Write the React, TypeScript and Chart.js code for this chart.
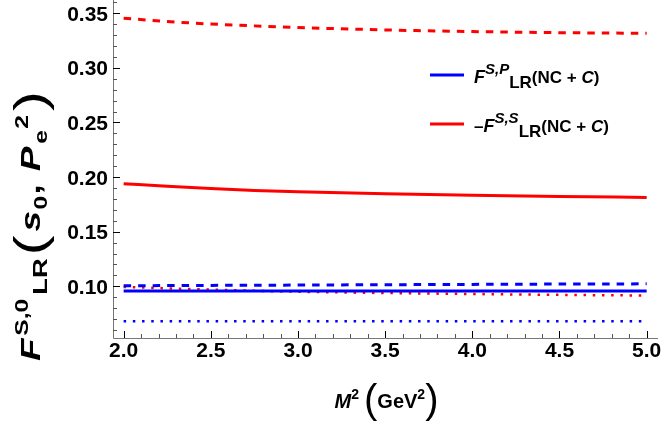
import React, { useEffect, useRef } from 'react';
import { Chart, registerables } from 'chart.js';
Chart.register(...registerables);

const xValues = [2.0, 2.25, 2.5, 2.75, 3.0, 3.5, 4.0, 4.5, 5.0];
const redDashed = [0.3455, 0.3425, 0.3402, 0.3385, 0.337, 0.3348, 0.3333, 0.3323, 0.3317];
const redSolid = [0.194, 0.1915, 0.1895, 0.1878, 0.1865, 0.1847, 0.1833, 0.1822, 0.1814];
const blueDashed = [0.1005, 0.1006, 0.1008, 0.1009, 0.1011, 0.1014, 0.1017, 0.102, 0.1022];
const blueSolid = [0.0957, 0.0957, 0.0957, 0.0957, 0.0957, 0.0957, 0.0957, 0.0957, 0.0957];
const redDotted = [0.0994, 0.0981, 0.097, 0.0959, 0.095, 0.0938, 0.0929, 0.0921, 0.0915];
const blueDotted = [0.068, 0.068, 0.068, 0.068, 0.068, 0.068, 0.068, 0.068, 0.068];

const xMajorTicks = [2.0, 2.5, 3.0, 3.5, 4.0, 4.5, 5.0];
const xTickLabels = ['2.0', '2.5', '3.0', '3.5', '4.0', '4.5', '5.0'];
const yMajorTicks = [0.1, 0.15, 0.2, 0.25, 0.3, 0.35];
const yTickLabels = ['0.10', '0.15', '0.20', '0.25', '0.30', '0.35'];

const RED = '#ff0000';
const BLUE = '#0000ff';
const FAM = '"Liberation Sans", Arial, sans-serif';

type Seg = { t: string; f: string; dy: number; gap?: number };

function segWidth(ctx: CanvasRenderingContext2D, segs: Seg[]) {
  let w = 0;
  for (const s of segs) {
    ctx.font = s.f;
    w += ctx.measureText(s.t).width + (s.gap || 0);
  }
  return w;
}
function drawSegs(ctx: CanvasRenderingContext2D, x: number, y: number, segs: Seg[]) {
  let cx = x;
  for (const s of segs) {
    ctx.font = s.f;
    ctx.fillText(s.t, cx, y + s.dy);
    cx += ctx.measureText(s.t).width + (s.gap || 0);
  }
}

const legendMain = (sup: string, neg: boolean): Seg[] => [
  ...(neg ? [{ t: '\u2013', f: `bold 17px ${FAM}`, dy: 0 }] : []),
  { t: 'F', f: `italic bold 18px ${FAM}`, dy: 0 },
  { t: sup, f: `italic bold 15px ${FAM}`, dy: -9 },
  { t: 'LR', f: `bold 17px ${FAM}`, dy: 5 },
  { t: '(NC + ', f: `bold 17px ${FAM}`, dy: 0 },
  { t: 'C', f: `italic bold 17px ${FAM}`, dy: 0 },
  { t: ')', f: `bold 17px ${FAM}`, dy: 0 },
];

const overlayPlugin = {
  id: 'overlay',
  afterDraw(chart: any) {
    const ctx: CanvasRenderingContext2D = chart.ctx;
    const xs = chart.scales.x;
    const ys = chart.scales.y;
    const { left, right, top, bottom } = chart.chartArea;
    ctx.save();
    ctx.strokeStyle = '#777';
    ctx.lineWidth = 1;
    ctx.beginPath();
    ctx.moveTo(left + 0.5, top);
    ctx.lineTo(left + 0.5, bottom + 0.5);
    ctx.lineTo(right, bottom + 0.5);
    ctx.stroke();
    for (let i = 0; i <= 31; i++) {
      const v = 1.9 + i * 0.1;
      const px = Math.round(xs.getPixelForValue(v)) + 0.5;
      if (px < left || px > right) continue;
      const major = Math.abs(Math.round(v * 2) - v * 2) < 1e-6;
      ctx.strokeStyle = major ? '#000' : '#555';
      ctx.beginPath();
      ctx.moveTo(px, bottom);
      ctx.lineTo(px, bottom - (major ? 7 : 4));
      ctx.stroke();
    }
    for (let i = 5; i <= 36; i++) {
      const v = i * 0.01;
      const py = Math.round(ys.getPixelForValue(v)) + 0.5;
      if (py < top || py > bottom) continue;
      const major = i % 5 === 0;
      ctx.strokeStyle = major ? '#000' : '#555';
      ctx.beginPath();
      ctx.moveTo(left, py);
      ctx.lineTo(left + (major ? 7 : 4), py);
      ctx.stroke();
    }
    ctx.fillStyle = '#000';
    ctx.font = `bold 21px ${FAM}`;
    ctx.textAlign = 'center';
    ctx.textBaseline = 'alphabetic';
    xMajorTicks.forEach((v, i) => {
      ctx.fillText(xTickLabels[i], xs.getPixelForValue(v), bottom + 19);
    });
    ctx.textAlign = 'right';
    yMajorTicks.forEach((v, i) => {
      ctx.fillText(yTickLabels[i], left - 5, ys.getPixelForValue(v) + 7.5);
    });
    ctx.textAlign = 'left';
    const xt: Seg[] = [
      { t: 'M', f: `italic bold 20px ${FAM}`, dy: 0 },
      { t: '2', f: `bold 14px ${FAM}`, dy: -9 },
      { t: ' ', f: `bold 18px ${FAM}`, dy: 0 },
      { t: '(', f: `40px ${FAM}`, dy: 5 },
      { t: 'GeV', f: `bold 20px ${FAM}`, dy: 0 },
      { t: '2', f: `bold 14px ${FAM}`, dy: -9 },
      { t: ')', f: `40px ${FAM}`, dy: 5 },
    ];
    const xw = segWidth(ctx, xt);
    drawSegs(ctx, (left + right) / 2 - xw / 2 + 1, 408, xt);
    const yt: Seg[] = [
      { t: 'F', f: `italic bold 27px ${FAM}`, dy: 0, gap: 2 },
      { t: 'S,0', f: `bold 18px ${FAM}`, dy: -12, gap: 3 },
      { t: 'LR', f: `bold 20px ${FAM}`, dy: 7, gap: 2 },
      { t: '(', f: `44px ${FAM}`, dy: 5, gap: 3 },
      { t: 's', f: `italic bold 27px ${FAM}`, dy: 0, gap: 1 },
      { t: '0', f: `bold 18px ${FAM}`, dy: 7, gap: 1 },
      { t: ', ', f: `bold 27px ${FAM}`, dy: 0, gap: 2 },
      { t: 'P', f: `italic bold 27px ${FAM}`, dy: 0, gap: 2 },
      { t: 'e', f: `bold 18px ${FAM}`, dy: 7, gap: 1 },
      { t: '2', f: `bold 18px ${FAM}`, dy: -12, gap: 3 },
      { t: ')', f: `44px ${FAM}`, dy: 5 },
    ];
    const yw = segWidth(ctx, yt);
    const k = 270 / yw;
    ctx.save();
    ctx.translate(40, 226);
    ctx.rotate(-Math.PI / 2);
    ctx.scale(k, 1);
    drawSegs(ctx, -yw / 2, 0, yt);
    ctx.restore();
    const items = [
      { c: BLUE, segs: legendMain('S,P', false), y: 75 },
      { c: RED, segs: legendMain('S,S', true), y: 124 },
    ];
    for (const it of items) {
      ctx.strokeStyle = it.c;
      ctx.lineWidth = 3;
      ctx.beginPath();
      ctx.moveTo(430, it.y);
      ctx.lineTo(464, it.y);
      ctx.stroke();
      ctx.fillStyle = '#000';
      drawSegs(ctx, 474, it.y + 8, it.segs);
    }
    ctx.restore();
  },
};

function ds(label: string, data: number[], color: string, dash: number[], width: number) {
  return {
    label,
    data: xValues.map((x, i) => ({ x, y: data[i] })),
    borderColor: color,
    backgroundColor: color,
    borderWidth: width,
    borderDash: dash,
    borderCapStyle: 'butt',
    pointRadius: 0,
    fill: false,
    cubicInterpolationMode: 'monotone',
  };
}

export default function App() {
  const ref = useRef<HTMLCanvasElement>(null);
  useEffect(() => {
    document.body.style.margin = '0';
    const chart = new Chart(ref.current as HTMLCanvasElement, {
      type: 'line',
      data: {
        datasets: [
          ds('redDashed', redDashed, RED, [7.5, 7], 3),
          ds('redSolid', redSolid, RED, [], 3),
          ds('blueDashed', blueDashed, BLUE, [7.5, 7], 3),
          ds('blueSolid', blueSolid, BLUE, [], 3),
          ds('redDotted', redDotted, RED, [2.5, 6.7], 2.5),
          ds('blueDotted', blueDotted, BLUE, [2.5, 6.7], 2.5),
        ] as any,
      },
      options: {
        animation: false,
        responsive: false,
        maintainAspectRatio: false,
        layout: { padding: { left: 113, right: 6, top: 0, bottom: 92 } },
        plugins: { legend: { display: false }, tooltip: { enabled: false } },
        scales: {
          x: { type: 'linear', min: 1.939, max: 5.065, display: false },
          y: { type: 'linear', min: 0.0526, max: 0.3622, display: false },
        },
      },
      plugins: [overlayPlugin],
    });
    return () => chart.destroy();
  }, []);
  return (
    <div style={{ position: 'fixed', left: 0, top: 0, width: 664, height: 430, background: '#fff' }}>
      <canvas ref={ref} width={664} height={430} />
    </div>
  );
}
